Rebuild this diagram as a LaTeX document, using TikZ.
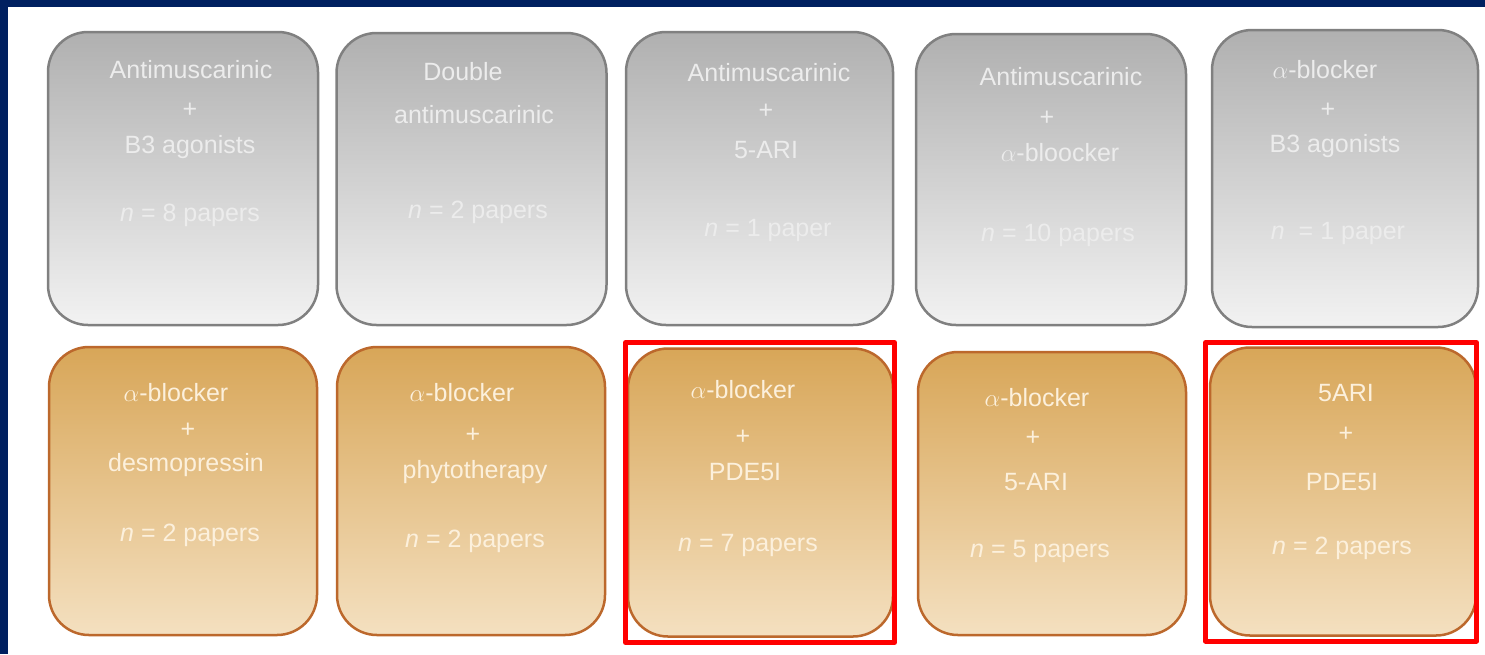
\documentclass[tikz,border=0pt]{standalone}
\usepackage{fontspec}
\setmainfont{Liberation Sans}
\usetikzlibrary{shadings}
\definecolor{navy}{RGB}{0,32,96}
\definecolor{grayline}{RGB}{128,128,128}
\definecolor{graytop}{RGB}{176,176,176}
\definecolor{graybot}{RGB}{242,242,242}
\definecolor{tanline}{RGB}{188,104,44}
\definecolor{tantop}{RGB}{216,166,88}
\definecolor{tanbot}{RGB}{244,224,192}
\definecolor{graytxt}{RGB}{236,236,236}
\definecolor{tantxt}{RGB}{252,240,220}
\begin{document}
\begin{tikzpicture}[x=1pt, y=-1pt, line join=round,
	graybox/.style={draw=grayline, line width=2.5pt, rounded corners=40pt, top color=graytop, bottom color=graybot, minimum width=270pt, minimum height=293pt},
	tanbox/.style={draw=tanline, line width=2.5pt, rounded corners=40pt, top color=tantop, bottom color=tanbot, minimum width=268pt, minimum height=288pt},
	gtxt/.style={text=graytxt, font=\fontsize{25}{30}\selectfont, inner sep=0pt},
	ttxt/.style={text=tantxt, font=\fontsize{25}{30}\selectfont, inner sep=0pt},
	hilite/.style={draw=red, line width=5pt}]
	\useasboundingbox (0,0) rectangle (1485,654);
	\fill[white] (0,0) rectangle (1485,654);
	\fill[navy] (0,0) rectangle (1485,7);
	\fill[navy] (0,0) rectangle (8,654);
	
	\node[graybox] (g1) at (183,178.5) {};
	\node[graybox, minimum height=292pt] (g2) at (471.5,179) {};
	\node[graybox, minimum width=267pt] (g3) at (759.5,178.5) {};
	\node[graybox, minimum height=291pt] (g4) at (1051,179.5) {};
	\node[graybox, minimum width=266pt, minimum height=297pt] (g5) at (1345,178.5) {};
	
	\node[tanbox] (o1) at (183,491) {};
	\node[tanbox] (o2) at (471,491) {};
	\node[tanbox, minimum width=265pt] (o3) at (760.5,492.5) {};
	\node[tanbox, minimum height=283pt] (o4) at (1052,493.5) {};
	\node[tanbox, minimum width=266pt] (o5) at (1343,491.5) {};
	
	\draw[hilite] (625.5,342.5) rectangle (894.5,642.5);
	\draw[hilite] (1205.5,342.5) rectangle (1476.5,641);
	
	\node[gtxt] (g1a) at (191,70) {Antimuscarinic};
	\node[gtxt] (g1b) at (190,110) {+};
	\node[gtxt] (g1c) at (190,147) {B3 agonists};
	\node[gtxt] (g1d) at (190,215) {\textit{n} = 8 papers};
	
	\node[gtxt] (g2a) at (463,72) {Double};
	\node[gtxt] (g2b) at (474,115) {antimuscarinic};
	\node[gtxt] (g2c) at (478,212) {\textit{n} = 2 papers};
	
	\node[gtxt] (g3a) at (769,73) {Antimuscarinic};
	\node[gtxt] (g3b) at (766,111) {+};
	\node[gtxt] (g3c) at (766,150) {5-ARI};
	\node[gtxt] (g3d) at (768,230) {\textit{n} = 1 paper};
	
	\node[gtxt] (g4a) at (1061,77) {Antimuscarinic};
	\node[gtxt] (g4b) at (1047,118) {+};
	\node[gtxt] (g4c) at (1060,153) {$\alpha$-bloocker};
	\node[gtxt] (g4d) at (1058,235) {\textit{n} = 10 papers};
	
	\node[gtxt] (g5a) at (1325,70) {$\alpha$-blocker};
	\node[gtxt] (g5b) at (1328,110) {+};
	\node[gtxt] (g5c) at (1335,146) {B3 agonists};
	\node[gtxt] (g5d) at (1338,233) {\textit{n}\ \ = 1 paper};
	
	\node[ttxt] (o1a) at (176,393) {$\alpha$-blocker};
	\node[ttxt] (o1b) at (188,430) {+};
	\node[ttxt] (o1c) at (186,465) {desmopressin};
	\node[ttxt] (o1d) at (190,535) {\textit{n} = 2 papers};
	
	\node[ttxt] (o2a) at (462,393) {$\alpha$-blocker};
	\node[ttxt] (o2b) at (473,435) {+};
	\node[ttxt] (o2c) at (475,472) {phytotherapy};
	\node[ttxt] (o2d) at (475,541) {\textit{n} = 2 papers};
	
	\node[ttxt] (o3a) at (743,390) {$\alpha$-blocker};
	\node[ttxt] (o3b) at (743,437) {+};
	\node[ttxt] (o3c) at (745,472) {PDE5I};
	\node[ttxt] (o3d) at (748,545) {\textit{n} = 7 papers};
	
	\node[ttxt] (o4a) at (1037,398) {$\alpha$-blocker};
	\node[ttxt] (o4b) at (1033,438) {+};
	\node[ttxt] (o4c) at (1036,482) {5-ARI};
	\node[ttxt] (o4d) at (1040,551) {\textit{n} = 5 papers};
	
	\node[ttxt] (o5a) at (1346,393) {5ARI};
	\node[ttxt] (o5b) at (1346,434) {+};
	\node[ttxt] (o5c) at (1342,482) {PDE5I};
	\node[ttxt] (o5d) at (1342,548) {\textit{n} = 2 papers};
\end{tikzpicture}
\end{document}
